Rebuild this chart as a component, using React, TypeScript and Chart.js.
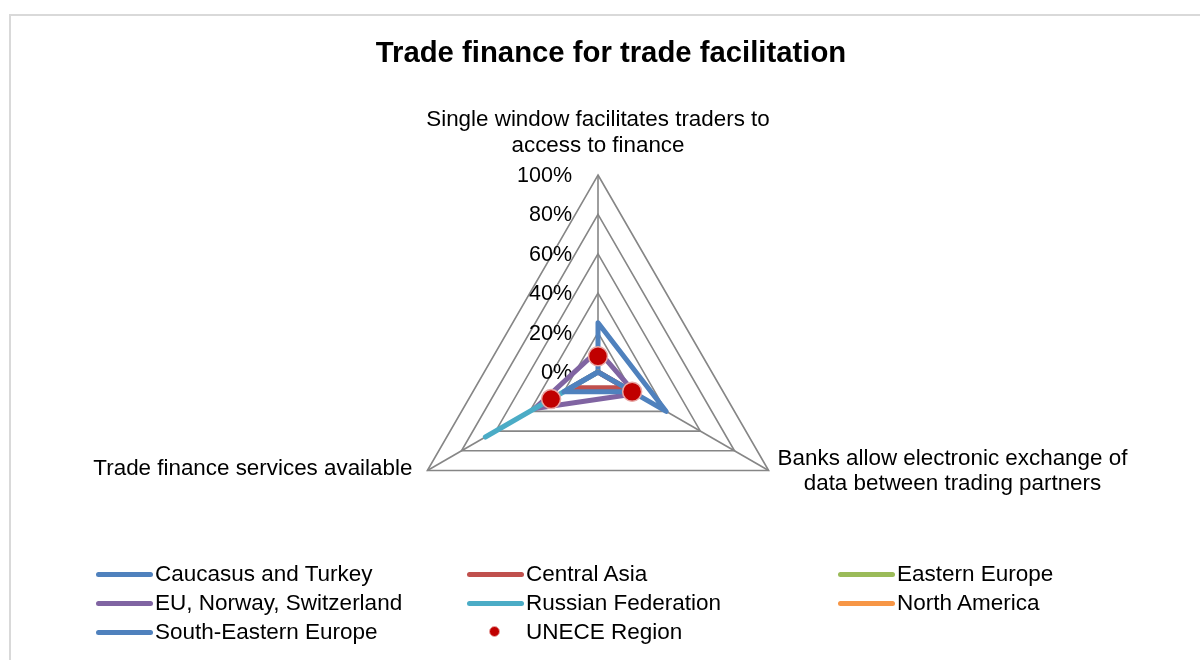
import React, { useEffect, useRef } from "react";
import { Chart, registerables } from "chart.js";

Chart.register(...registerables);

const FONT = '"Liberation Sans", Arial, sans-serif';

// ---- data ----
const axisLabels: string[][] = [
  ["Single window facilitates traders to", "access to finance"],
  ["Banks allow electronic exchange of", "data between trading partners"],
  ["Trade finance services available"],
];
const tickValues = [0, 20, 40, 60, 80, 100];

const caucasusTurkey = [25, 40, 0];
const centralAsia = [0, 16, 16];
const easternEurope = [0, 0, 0];
const euNorwaySwitzerland = [11, 22, 37];
const russianFederation = [0, 0, 66];
const northAmerica = [0, 0, 0];
const southEasternEurope = [0, 20, 20];
const uneceRegion = [8, 20, 27.5];

const seriesNames = [
  "Caucasus and Turkey",
  "Central Asia",
  "Eastern Europe",
  "EU, Norway, Switzerland",
  "Russian Federation",
  "North America",
  "South-Eastern Europe",
  "UNECE Region",
];
const seriesColors = [
  "#4F81BD",
  "#C0504D",
  "#9BBB59",
  "#8064A2",
  "#4BACC6",
  "#F79646",
  "#4F81BD",
  "#C00000",
];
const lineSeries = [
  caucasusTurkey,
  centralAsia,
  easternEurope,
  euNorwaySwitzerland,
  russianFederation,
  northAmerica,
  southEasternEurope,
];

const labelsPlugin = {
  id: "excelLabels",
  beforeDatasetsDraw(chart: any) {
    const scale = chart.scales.r;
    const ctx = chart.ctx;
    ctx.save();
    ctx.fillStyle = "#000";
    ctx.font = `21.5px ${FONT}`;
    ctx.textAlign = "right";
    ctx.textBaseline = "middle";
    scale.ticks.forEach((t: any) => {
      const d = scale.getDistanceFromCenterForValue(t.value);
      ctx.fillText(`${t.value}%`, scale.xCenter - 26, scale.yCenter - d + 1);
    });
    ctx.restore();
  },
  afterDraw(chart: any) {
    const scale = chart.scales.r;
    const ctx = chart.ctx;
    const R = scale.drawingArea;
    ctx.save();
    ctx.fillStyle = "#000";
    ctx.font = `22.4px ${FONT}`;
    ctx.textBaseline = "middle";
    // top label
    const p0 = scale.getPointPosition(0, R);
    ctx.textAlign = "center";
    ctx.fillText(axisLabels[0][0], p0.x, p0.y - 55);
    ctx.fillText(axisLabels[0][1], p0.x, p0.y - 29);
    // right label
    const p1 = scale.getPointPosition(1, R);
    const w = Math.max(...axisLabels[1].map((s) => ctx.measureText(s).width));
    const cx = p1.x + 9 + w / 2;
    ctx.fillText(axisLabels[1][0], cx, p1.y - 11.5);
    ctx.fillText(axisLabels[1][1], cx, p1.y + 13.5);
    // left label
    const p2 = scale.getPointPosition(2, R);
    ctx.textAlign = "right";
    ctx.fillText(axisLabels[2][0], p2.x - 15, p2.y - 1.5);
    ctx.restore();
  },
};

function ChartCanvas() {
  const ref = useRef<HTMLCanvasElement | null>(null);
  useEffect(() => {
    if (!ref.current) return;
    const datasets: any[] = lineSeries.map((data, i) => ({
      label: seriesNames[i],
      data,
      borderColor: seriesColors[i],
      backgroundColor: seriesColors[i],
      borderWidth: 5,
      borderJoinStyle: "round",
      borderCapStyle: "round",
      pointRadius: 0,
      pointHoverRadius: 0,
      fill: false,
      order: 20 - i,
    }));
    datasets.push({
      label: seriesNames[7],
      data: uneceRegion,
      showLine: false,
      borderColor: "transparent",
      borderWidth: 0,
      pointRadius: 9.5,
      pointHoverRadius: 9.5,
      pointBackgroundColor: "#C00000",
      pointBorderColor: "#E8A7A5",
      pointBorderWidth: 1.5,
      fill: false,
      order: 1,
    });
    const chart = new Chart(ref.current, {
      type: "radar",
      data: { labels: axisLabels.map((l) => l.join(" ")), datasets },
      options: {
        responsive: false,
        animation: false,
        events: [],
        layout: { padding: { top: 175, bottom: 91, left: 300, right: 304 } },
        plugins: {
          legend: { display: false },
          title: { display: false },
          tooltip: { enabled: false },
        },
        scales: {
          r: {
            min: 0,
            max: 100,
            ticks: { stepSize: 20, display: false },
            afterBuildTicks: (s: any) => {
              s.ticks = tickValues.map((v) => ({ value: v }));
            },
            grid: { color: "#868686", lineWidth: 1.6 },
            angleLines: { color: "#868686", lineWidth: 1.6 },
            pointLabels: { display: false },
          },
        },
      },
      plugins: [labelsPlugin],
    } as any);
    return () => chart.destroy();
  }, []);
  return (
    <canvas
      ref={ref}
      width={1200}
      height={660}
      style={{ position: "absolute", left: 0, top: 0, width: 1200, height: 660 }}
    />
  );
}

const legendCols = [96, 467, 838];
const legendRows = [574, 603, 632];

export default function App() {
  return (
    <div
      style={{
        position: "absolute",
        left: 0,
        top: 0,
        width: 1200,
        height: 660,
        overflow: "hidden",
        background: "#fff",
        fontFamily: FONT,
      }}
    >
      <div
        style={{
          position: "absolute",
          left: 9,
          top: 14,
          width: 1400,
          height: 800,
          borderLeft: "2px solid #d9d9d9",
          borderTop: "2px solid #d9d9d9",
        }}
      />
      <ChartCanvas />
      <div
        style={{
          position: "absolute",
          left: 0,
          top: 35,
          width: 1222,
          textAlign: "center",
          fontWeight: "bold",
          fontSize: 29.3,
          lineHeight: "34px",
          color: "#000",
        }}
      >
        Trade finance for trade facilitation
      </div>
      {seriesNames.map((name, i) => {
        const col = i % 3;
        const row = Math.floor(i / 3);
        const x = legendCols[col];
        const y = legendRows[row];
        const isMarker = i === 7;
        return (
          <div key={name}>
            {isMarker ? (
              <div
                style={{
                  position: "absolute",
                  left: x + 22,
                  top: y - 6,
                  width: 9,
                  height: 9,
                  borderRadius: "50%",
                  background: "#C00000",
                  border: "1.5px solid #E8A7A5",
                }}
              />
            ) : (
              <div
                style={{
                  position: "absolute",
                  left: x,
                  top: y - 2.5,
                  width: 57,
                  height: 5,
                  borderRadius: 2.5,
                  background: seriesColors[i],
                }}
              />
            )}
            <div
              style={{
                position: "absolute",
                left: x + 59,
                top: y - 13,
                fontSize: 22.5,
                lineHeight: "26px",
                color: "#000",
                whiteSpace: "nowrap",
              }}
            >
              {name}
            </div>
          </div>
        );
      })}
    </div>
  );
}
